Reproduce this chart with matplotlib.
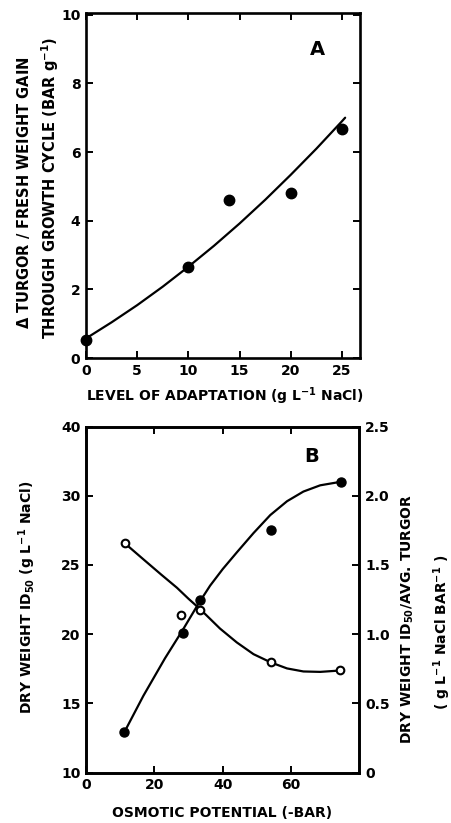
import matplotlib
matplotlib.use("Agg")
import matplotlib.pyplot as plt

plt.rcParams['font.family'] = ['DejaVu Sans']
plt.rcParams['font.weight'] = 'bold'
plt.rcParams['mathtext.default'] = 'bf'

# panel A: measured points
a_x = [0, 10, 14, 20, 25]
a_y = [0.52, 2.66, 4.6, 4.82, 6.66]
# panel A: drawn curve
a_curve_x = [0, 2.5, 5, 7.5, 10, 12.5, 15, 17.5, 20, 22.5, 25, 25.3]
a_curve_y = [0.57, 1.04, 1.54, 2.08, 2.66, 3.27, 3.92, 4.61, 5.34, 6.10, 6.90, 7.0]

# panel B: dry weight ID50 (filled, left axis)
b_x = [11.2, 28.4, 33.2, 54.2, 74.6]
b_id50 = [12.9, 20.06, 22.5, 27.5, 31.0]
b_id50_curve_x = [11.1, 16.8, 23.1, 28.3, 32.9, 36.3, 40, 44.1, 49, 53.9, 58.8, 63.6, 68.5, 74.4]
b_id50_curve_y = [12.86, 15.55, 18.25, 20.3, 22.2, 23.5, 24.7, 25.9, 27.3, 28.6, 29.6, 30.3, 30.75, 31.0]

# panel B: ID50 / avg turgor (open, right axis)
b_ratio_x = [11.4, 27.8, 33.4, 54.1, 74.4]
b_ratio = [1.655, 1.138, 1.174, 0.795, 0.737]
b_ratio_curve_x = [11.4, 16.8, 22, 26.6, 30, 33.4, 39.2, 44.1, 49, 54.1, 58.8, 63.6, 68.5, 74.4]
b_ratio_curve_y = [1.655, 1.54, 1.43, 1.335, 1.255, 1.18, 1.04, 0.94, 0.855, 0.795, 0.752, 0.73, 0.727, 0.737]

a_xticks = [0, 5, 10, 15, 20, 25]
a_yticks = [0, 2, 4, 6, 8, 10]
b_xticks = [0, 20, 40, 60]
b_lticks = [10, 15, 20, 25, 30, 35]
b_llabels = ['10', '15', '20', '25', '30', '40']
b_rticks = [0, 0.5, 1.0, 1.5, 2.0, 2.5]
b_rlabels = ['0', '0.5', '1.0', '1.5', '2.0', '2.5']

W, H = 452, 823
fig = plt.figure(figsize=(W / 100, H / 100), dpi=100)
fig.patch.set_facecolor('white')

LW = 1.6
FS = 10


def style(ax):
    for s in ax.spines.values():
        s.set_linewidth(1.9)
    ax.tick_params(direction='in', length=5, width=1.4, labelsize=FS,
                   top=True, right=True, pad=4)


# ---- panel A ----
axA = fig.add_axes([86 / W, 1 - 358 / H, 274 / W, 345 / H])
axA.plot(a_curve_x, a_curve_y, color='black', lw=LW, solid_capstyle='round')
axA.plot(a_x, a_y, 'o', color='black', ms=7.5, clip_on=False)
axA.set_xlim(0, 26.75)
axA.set_ylim(0, 10.05)
axA.set_xticks(a_xticks)
axA.set_yticks(a_yticks)
style(axA)
axA.text(22.6, 9.0, 'A', fontsize=14, ha='center', va='center')

fig.text(24 / W, 1 - 193 / H, r'$\Delta$ TURGOR / FRESH WEIGHT GAIN',
         rotation=90, ha='center', va='center', fontsize=10.5)
fig.text(50 / W, 1 - 188 / H, r'THROUGH GROWTH CYCLE (BAR g$^{-1}$)',
         rotation=90, ha='center', va='center', fontsize=10.5)
fig.text(225 / W, 1 - 396 / H, r'LEVEL OF ADAPTATION (g L$^{-1}$ NaCl)',
         ha='center', va='center', fontsize=FS)

# ---- panel B ----
axB = fig.add_axes([86 / W, 1 - 772.5 / H, 273.5 / W, 346 / H])
axB.plot(b_id50_curve_x, b_id50_curve_y, color='black', lw=LW, solid_capstyle='round')
axB.plot(b_x, b_id50, 'o', color='black', ms=6.5)
axB.set_xlim(0, 80)
axB.set_ylim(10, 35)
axB.set_xticks(b_xticks)
axB.set_yticks(b_lticks)
axB.set_yticklabels(b_llabels)
style(axB)
axB.tick_params(right=False)

axR = axB.twinx()
axR.plot(b_ratio_curve_x, b_ratio_curve_y, color='black', lw=LW, solid_capstyle='round')
axR.plot(b_ratio_x, b_ratio, 'o', mfc='white', mec='black', mew=1.5, ms=5.5)
axR.set_ylim(0, 2.5)
axR.set_yticks(b_rticks)
axR.set_yticklabels(b_rlabels)
for s in axR.spines.values():
    s.set_linewidth(1.9)
axR.tick_params(direction='in', length=5, width=1.4, labelsize=FS, pad=4)
axB.text(66.1, 32.8, 'B', fontsize=14, ha='center', va='center')

fig.text(27 / W, 1 - 597 / H, r'DRY WEIGHT ID$_{50}$ (g L$^{-1}$ NaCl)',
         rotation=90, ha='center', va='center', fontsize=FS)
fig.text(408 / W, 1 - 619 / H, r'DRY WEIGHT ID$_{50}$/AVG. TURGOR',
         rotation=90, ha='center', va='center', fontsize=FS)
fig.text(442 / W, 1 - 632 / H, r'( g L$^{-1}$ NaCl BAR$^{-1}$ )',
         rotation=90, ha='center', va='center', fontsize=FS)
fig.text(222 / W, 1 - 813 / H, 'OSMOTIC POTENTIAL (-BAR)',
         ha='center', va='center', fontsize=FS)

fig.savefig('out.png', dpi=100)
